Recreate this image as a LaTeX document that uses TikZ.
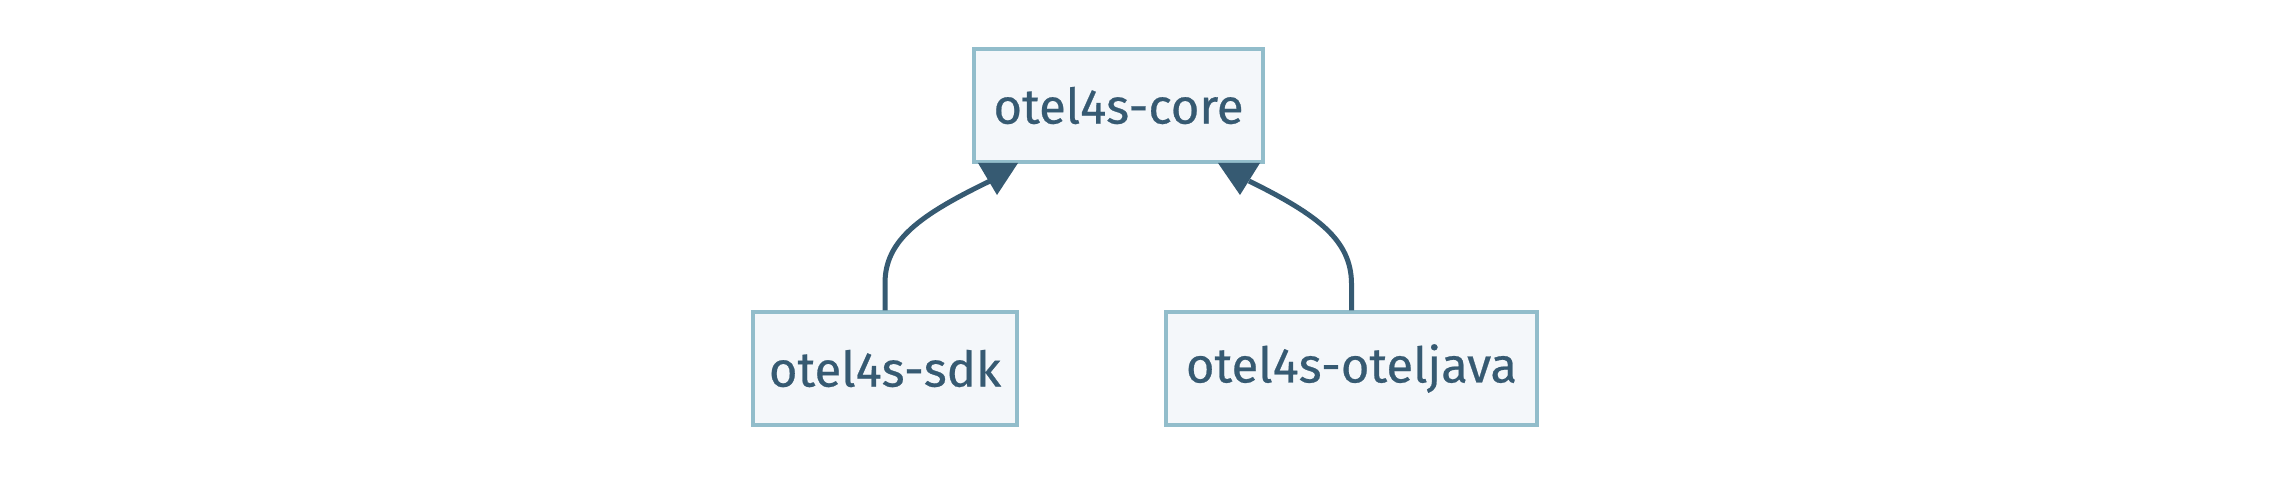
\documentclass[tikz,border=0pt]{standalone}
\usepackage{fontspec}
\setmainfont{Fira Sans}[FakeBold=0.5]
\definecolor{ink}{HTML}{365A72}
\definecolor{boxline}{HTML}{92BDCB}
\definecolor{boxfill}{HTML}{F4F7FA}
\begin{document}
\begin{tikzpicture}[x=1pt,y=-1pt,
  modbox/.style={draw=boxline,fill=boxfill,line width=3.5pt,inner sep=0pt,minimum height=113pt,text=ink,font=\fontsize{49}{58}\selectfont},
  link/.style={draw=ink,line width=5pt},
  head/.style={fill=ink}]
\useasboundingbox (0,0) rectangle (2284,484);
\node[modbox,minimum width=289pt] (core) at (1118.5,105.5) {otel4s-core};
\node[modbox,minimum width=264pt] (sdk) at (885,368.5) {otel4s-sdk};
\node[modbox,minimum width=371pt] (oj) at (1351.5,368.5) {otel4s-oteljava};
\coordinate (la) at (990,181);
\coordinate (ra) at (1249,181);
\draw[link] (sdk.north) -- ++(0,-27) .. controls (885,240) and (920,215) .. (la);
\draw[link] (oj.north) -- ++(0,-27) .. controls (1351,240) and (1318,215) .. (ra);
\fill[head] (978,163) -- (1018,163) -- (997,195) -- cycle;
\fill[head] (1218,163) -- (1260,163) -- (1240,195) -- cycle;
\end{tikzpicture}
\end{document}
